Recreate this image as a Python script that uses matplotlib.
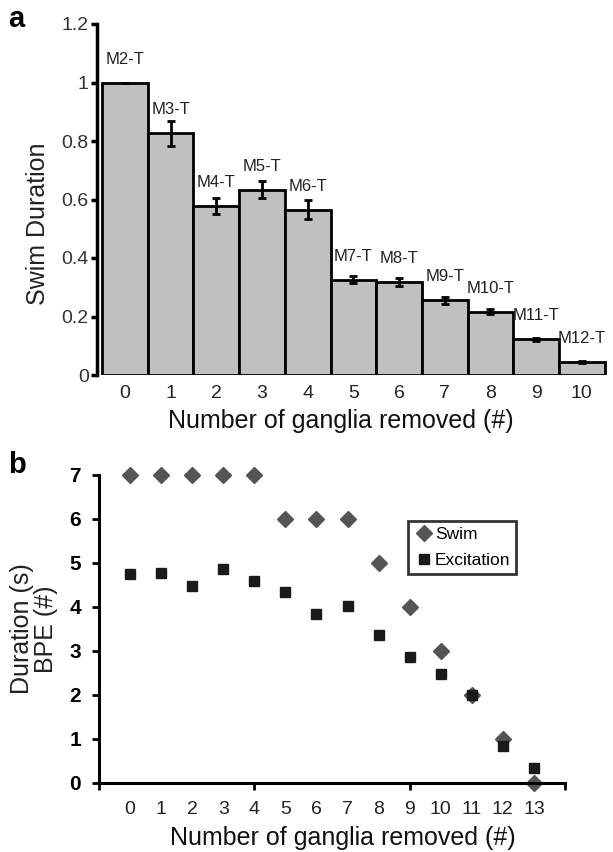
import matplotlib
matplotlib.use("Agg")
import matplotlib.pyplot as plt

plt.rcParams["font.family"] = ["Liberation Sans", "DejaVu Sans"]

# panel a: normalised swim duration per number of ganglia removed
ganglia_a = list(range(11))
swim_duration = [1.0, 0.826, 0.578, 0.634, 0.565, 0.326, 0.318, 0.256, 0.216, 0.122, 0.044]
swim_error = [0.0, 0.042, 0.027, 0.030, 0.032, 0.012, 0.015, 0.012, 0.008, 0.005, 0.004]
bar_labels = ["M2-T", "M3-T", "M4-T", "M5-T", "M6-T", "M7-T", "M8-T",
              "M9-T", "M10-T", "M11-T", "M12-T"]

# panel b: swim duration (s) and excitation BPE (#)
ganglia_b = list(range(14))
swim_b = [7, 7, 7, 7, 7, 6, 6, 6, 5, 4, 3, 2, 1, 0]
excitation_b = [4.76, 4.78, 4.47, 4.86, 4.58, 4.33, 3.85, 4.02, 3.37, 2.86, 2.47, 2.0, 0.83, 0.33]

W, H = 613, 852
fig = plt.figure(figsize=(W / 100, H / 100), dpi=100)


def frac(x0, y0, x1, y1):
    return [x0 / W, 1 - y1 / H, (x1 - x0) / W, (y1 - y0) / H]


# ---- panel a ----
ax = fig.add_axes(frac(97, 24, 607, 375))
ax.bar(ganglia_a, swim_duration, width=1.0, color="#c0c0c0", edgecolor="black", linewidth=2)
ax.errorbar(ganglia_a, swim_duration, yerr=swim_error, fmt="none", ecolor="black",
            elinewidth=2, capsize=3, capthick=2)
for x, y, lab in zip(ganglia_a, swim_duration, bar_labels):
    ax.text(x, y + 0.08, lab, ha="center", va="center", fontsize=12, color="#222222")
ax.set_xlim(-0.61, 10.55)
ax.set_ylim(0, 1.2)
ax.set_yticks([0, 0.2, 0.4, 0.6, 0.8, 1.0, 1.2])
ax.set_yticklabels(["0", "0.2", "0.4", "0.6", "0.8", "1", "1.2"])
ax.set_xticks(ganglia_a)
ax.tick_params(axis="x", length=0, pad=7, labelsize=14, labelcolor="#222222")
ax.tick_params(axis="y", direction="out", length=4, width=2.5, pad=2, labelsize=14,
               labelcolor="#333333")
for side in ["top", "right", "bottom"]:
    ax.spines[side].set_visible(False)
ax.spines["left"].set_linewidth(2.5)
ax.set_xlabel("Number of ganglia removed (#)", fontsize=18, color="#111111")
ax.set_ylabel("Swim Duration", fontsize=18, color="#222222")
ax.xaxis.set_label_coords(0.478, -0.098)
ax.yaxis.set_label_coords(-0.092, 0.43)
fig.text(8 / W, 1 - 27 / H, "a", fontsize=21, fontweight="bold", va="baseline")

# ---- panel b ----
bx = fig.add_axes(frac(99, 475, 565, 783))
bx.plot(ganglia_b, swim_b, linestyle="none", marker="D", markersize=8,
        color="#555555", label="Swim", clip_on=False)
bx.plot(ganglia_b, excitation_b, linestyle="none", marker="s", markersize=7.5,
        color="#1a1a1a", label="Excitation", clip_on=False)
bx.set_xlim(-1, 14)
bx.set_ylim(0, 7)
bx.set_yticks(range(8))
bx.xaxis.remove_overlapping_locs = False
bx.set_xticks([-1, 4, 9, 14])
bx.set_xticklabels([])
bx.set_xticks(ganglia_b, minor=True)
bx.set_xticklabels([str(g) for g in ganglia_b], minor=True)
bx.tick_params(axis="x", which="major", direction="out", length=5, width=2)
bx.tick_params(axis="x", which="minor", length=0, pad=13, labelsize=14, labelcolor="#222222")
bx.tick_params(axis="y", direction="out", length=5, width=2, pad=8, labelsize=15)
for t in bx.get_yticklabels():
    t.set_fontweight("bold")
for side in ["top", "right"]:
    bx.spines[side].set_visible(False)
bx.spines["left"].set_linewidth(2.2)
bx.spines["bottom"].set_linewidth(2.2)
bx.set_xlabel("Number of ganglia removed (#)", fontsize=18, color="#111111")
bx.set_ylabel("Duration (s)\nBPE (#)", fontsize=18, color="#222222", linespacing=1.0)
bx.xaxis.set_label_coords(0.524, -0.14)
bx.yaxis.set_label_coords(-0.088, 0.5)
leg = bx.legend(loc="upper left", bbox_to_anchor=(408 / W, 1 - 521 / H),
                bbox_transform=fig.transFigure, fontsize=12.5, frameon=True, fancybox=False,
                handletextpad=0.1, handlelength=1.1, borderpad=0.35, labelspacing=0.6,
                borderaxespad=0)
leg.get_frame().set_edgecolor("black")
leg.get_frame().set_linewidth(2)
fig.text(8 / W, 1 - 473 / H, "b", fontsize=21, fontweight="bold", va="baseline")

fig.savefig("out.png", dpi=100)
